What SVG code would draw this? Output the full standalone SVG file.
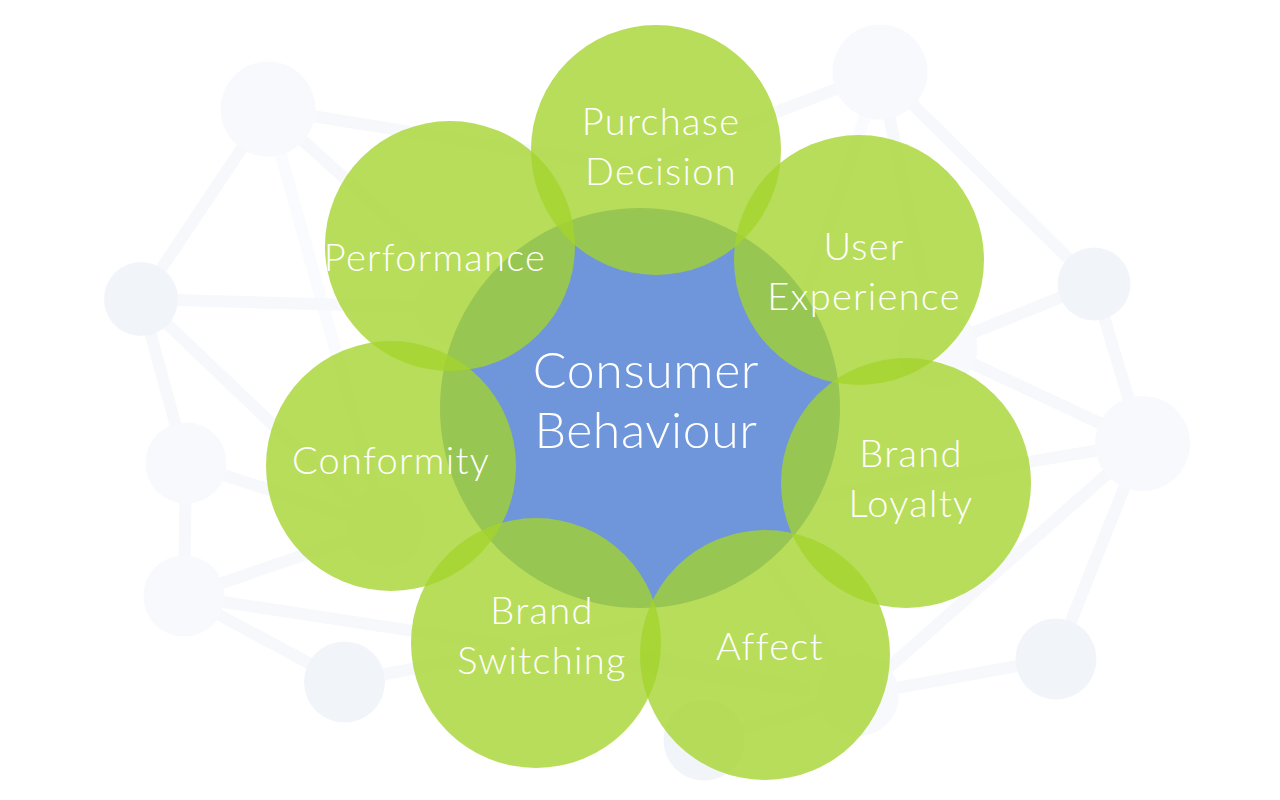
<svg xmlns="http://www.w3.org/2000/svg" width="1280" height="800" viewBox="0 0 1280 800">
<style>
.e{stroke:#f6f8fc;stroke-width:12;fill:none}
.f{stroke:#fafbfe;stroke-width:12;fill:none}
.a{fill:#f7f9fd}
.b{fill:#f1f5fa}
.g{fill:#a4d32b;fill-opacity:.78}
text{font-family:"Lato","Liberation Sans",sans-serif;font-weight:300;fill:#fff;text-anchor:middle;font-size:38px;letter-spacing:1.3px}
.c{font-size:50px;letter-spacing:.6px}
</style>
<rect width="1280" height="800" fill="#fff"/>
<g id="connectors">
<line class="e" x1="268" y1="109" x2="141" y2="299"/>
<line class="f" x1="268" y1="109" x2="385" y2="527"/>
<line class="e" x1="268" y1="109" x2="700" y2="500"/>
<line class="e" x1="268" y1="109" x2="680" y2="175"/>
<line class="e" x1="141" y1="299" x2="186" y2="463"/>
<line class="e" x1="141" y1="299" x2="385" y2="532"/>
<line class="e" x1="141" y1="299" x2="450" y2="308"/>
<line class="e" x1="186" y1="463" x2="385" y2="527"/>
<line class="e" x1="186" y1="463" x2="184" y2="596"/>
<line class="e" x1="184" y1="596" x2="385" y2="527"/>
<line class="e" x1="184" y1="596" x2="800" y2="690"/>
<line class="e" x1="184" y1="596" x2="344" y2="682"/>
<line class="e" x1="344" y1="682" x2="640" y2="625"/>
<line class="e" x1="880" y1="72" x2="640" y2="165"/>
<line class="e" x1="880" y1="72" x2="1094" y2="284"/>
<line class="e" x1="880" y1="72" x2="937" y2="347"/>
<line class="f" x1="880" y1="72" x2="790" y2="340"/>
<line class="e" x1="1094" y1="284" x2="937" y2="347"/>
<line class="e" x1="937" y1="347" x2="1142" y2="443"/>
<line class="e" x1="1094" y1="284" x2="1142" y2="443"/>
<line class="e" x1="1142" y1="443" x2="800" y2="500"/>
<line class="e" x1="1142" y1="443" x2="858" y2="695"/>
<line class="e" x1="1142" y1="443" x2="1056" y2="659"/>
<line class="e" x1="1056" y1="659" x2="858" y2="695"/>
<line class="e" x1="704" y1="740" x2="858" y2="695"/>
<line class="e" x1="770" y1="565" x2="858" y2="695"/>
<line class="e" x1="640" y1="655" x2="810" y2="690"/>
</g>
<g id="net-1"><circle class="a" cx="268" cy="109" r="47.5"/></g>
<g id="net-2"><circle class="b" cx="141" cy="299" r="37"/></g>
<g id="net-3"><circle class="a" cx="186" cy="463" r="40.5"/></g>
<g id="net-4"><circle class="a" cx="184" cy="596" r="40.5"/></g>
<g id="net-5"><circle class="b" cx="344.500" cy="682" r="40.500"/></g>
<g id="net-6"><circle class="a" cx="880" cy="72" r="47.5"/></g>
<g id="net-7"><circle class="b" cx="1094" cy="284" r="36.500"/></g>
<g id="net-8"><circle class="a" cx="1142.500" cy="443.500" r="47.500"/></g>
<g id="net-9"><circle class="b" cx="1056" cy="659" r="40.500"/></g>
<g id="net-10"><circle class="b" cx="704" cy="740" r="40.500"/></g>
<g id="net-11"><circle class="a" cx="937" cy="347" r="40.500"/></g>
<g id="net-12"><circle class="a" cx="858" cy="695" r="41"/></g>
<g id="net-13"><circle class="a" cx="385" cy="527" r="40"/></g>
<g id="net-14"><circle class="a" cx="450" cy="308" r="36"/></g>
<g id="center"><circle cx="640" cy="408" r="200" fill="#6c93d9" fill-opacity=".98"/></g>
<g id="purchase-decision"><circle class="g" cx="656" cy="150" r="125"/></g>
<g id="user-experience"><circle class="g" cx="859" cy="260" r="125"/></g>
<g id="brand-loyalty"><circle class="g" cx="906" cy="483" r="125"/></g>
<g id="affect"><circle class="g" cx="765" cy="655" r="125"/></g>
<g id="brand-switching"><circle class="g" cx="536" cy="643" r="125"/></g>
<g id="conformity"><circle class="g" cx="391" cy="466" r="125"/></g>
<g id="performance"><circle class="g" cx="450" cy="246" r="125"/></g>
<g id="labels">
<text class="c" x="646" y="388">Consumer</text>
<text class="c" x="646" y="448">Behaviour</text>
<text x="661" y="135">Purchase</text>
<text x="661" y="185">Decision</text>
<text x="864" y="260">User</text>
<text x="864" y="310">Experience</text>
<text x="911" y="467">Brand</text>
<text x="911" y="517">Loyalty</text>
<text x="770" y="660">Affect</text>
<text x="542" y="624">Brand</text>
<text x="542" y="674">Switching</text>
<text x="391" y="474">Conformity</text>
<text x="435" y="271">Performance</text>
</g>
</svg>
